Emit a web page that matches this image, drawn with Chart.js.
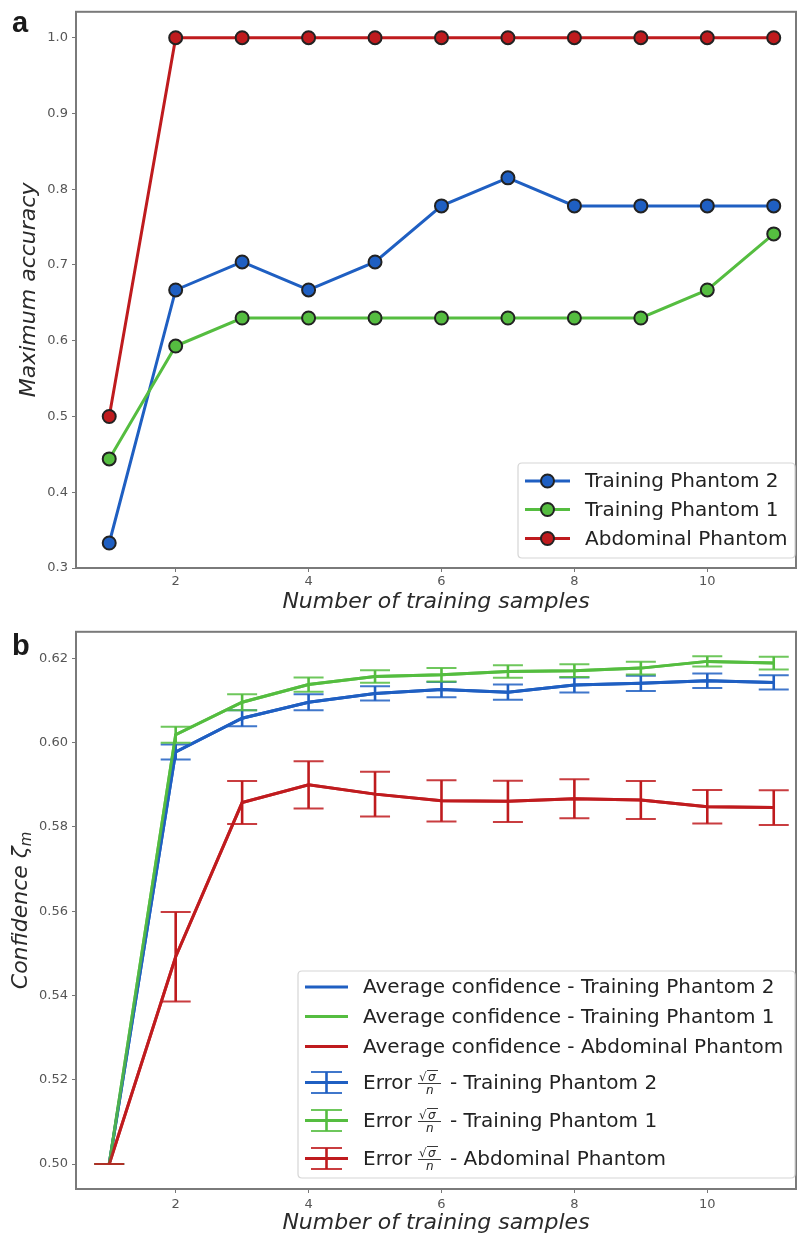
<!DOCTYPE html>
<html>
<head>
<meta charset="utf-8">
<title>accuracy and confidence</title>
<script src="https://cdn.jsdelivr.net/npm/chart.js"></script>
<style>
  html, body { margin: 0; padding: 0; background: #fff; overflow: hidden; }
  #wrapA { position: absolute; left: 0; top: 0; width: 797px; height: 620px; }
  #wrapB { position: absolute; left: 0; top: 620px; width: 797px; height: 616px; }
</style>
</head>
<body>
<div id="wrapA"><canvas id="chartA"></canvas></div>
<div id="wrapB"><canvas id="chartB"></canvas></div>
<script>
// number of training samples (x axis, both panels)
var samples = [1, 2, 3, 4, 5, 6, 7, 8, 9, 10, 11];
var xTicks = [2, 4, 6, 8, 10];

// panel a - maximum accuracy
var accTicks = [0.3, 0.4, 0.5, 0.6, 0.7, 0.8, 0.9, 1.0];
var accPhantom2  = [0.333, 0.667, 0.704, 0.667, 0.704, 0.778, 0.815, 0.778, 0.778, 0.778, 0.778];
var accPhantom1  = [0.444, 0.593, 0.630, 0.630, 0.630, 0.630, 0.630, 0.630, 0.630, 0.667, 0.741];
var accAbdominal = [0.500, 1.000, 1.000, 1.000, 1.000, 1.000, 1.000, 1.000, 1.000, 1.000, 1.000];

// panel b - average confidence and error (half height of bar)
var confTicks = [0.50, 0.52, 0.54, 0.56, 0.58, 0.60, 0.62];
var confPhantom2  = [0.500, 0.5978, 0.6058, 0.6096, 0.6117, 0.6126, 0.6120, 0.6137, 0.6141, 0.6147, 0.6143];
var errPhantom2   = [0.0, 0.0018, 0.0019, 0.0019, 0.0017, 0.0018, 0.0018, 0.0018, 0.0018, 0.0017, 0.0017];
var confPhantom1  = [0.500, 0.6019, 0.6096, 0.6138, 0.6157, 0.6161, 0.6169, 0.6171, 0.6177, 0.6193, 0.6189];
var errPhantom1   = [0.0, 0.0019, 0.0019, 0.0017, 0.0015, 0.0016, 0.0015, 0.0015, 0.0015, 0.0012, 0.0015];
var confAbdominal = [0.500, 0.5492, 0.5858, 0.5900, 0.5878, 0.5862, 0.5861, 0.5867, 0.5864, 0.5848, 0.5846];
var errAbdominal  = [0.0, 0.0106, 0.0051, 0.0056, 0.0053, 0.0049, 0.0049, 0.0046, 0.0045, 0.0040, 0.0041];

var BLUE = '#1f5fc2', GREEN = '#55bd40', RED = '#bf1b1e';
var FONT = "'DejaVu Sans', sans-serif";

function pts(vals) {
  return samples.map(function (s, i) { return { x: s, y: vals[i] }; });
}

// box round the plot area + panel letter
var frame = {
  id: 'frame',
  beforeDatasetsDraw: function (chart) {
    var a = chart.chartArea, ctx = chart.ctx;
    ctx.save();
    ctx.strokeStyle = '#7a7a7a';
    ctx.lineWidth = 2;
    ctx.strokeRect(a.left, a.top, a.right - a.left, a.bottom - a.top);
    ctx.restore();
  },
  afterDraw: function (chart) {
    var ctx = chart.ctx;
    ctx.save();
    ctx.fillStyle = '#1a1a1a';
    ctx.font = "bold 29px 'Liberation Sans', sans-serif";
    ctx.textBaseline = 'alphabetic';
    ctx.fillText(chart.canvas.id === 'chartA' ? 'a' : 'b', 12, chart.canvas.id === 'chartA' ? 32 : 35);
    ctx.restore();
  }
};

function roundBox(ctx, x, y, w, h, r) {
  ctx.beginPath();
  ctx.moveTo(x + r, y);
  ctx.lineTo(x + w - r, y); ctx.quadraticCurveTo(x + w, y, x + w, y + r);
  ctx.lineTo(x + w, y + h - r); ctx.quadraticCurveTo(x + w, y + h, x + w - r, y + h);
  ctx.lineTo(x + r, y + h); ctx.quadraticCurveTo(x, y + h, x, y + h - r);
  ctx.lineTo(x, y + r); ctx.quadraticCurveTo(x, y, x + r, y);
  ctx.closePath();
}

var legendA = {
  id: 'legendA',
  afterDraw: function (chart) {
    var ctx = chart.ctx;
    ctx.save();
    roundBox(ctx, 518, 463, 277, 95, 4);
    ctx.fillStyle = 'rgba(255,255,255,0.85)';
    ctx.fill();
    ctx.strokeStyle = '#d6d6d6';
    ctx.lineWidth = 1.2;
    ctx.stroke();
    var rows = [481, 509.5, 538.5];
    chart.data.datasets.forEach(function (d, i) {
      var y = rows[i];
      ctx.strokeStyle = d.borderColor;
      ctx.lineWidth = 3;
      ctx.beginPath(); ctx.moveTo(525, y); ctx.lineTo(570, y); ctx.stroke();
      ctx.beginPath(); ctx.arc(547.5, y, 6.5, 0, Math.PI * 2);
      ctx.fillStyle = d.borderColor; ctx.fill();
      ctx.lineWidth = 2; ctx.strokeStyle = '#222'; ctx.stroke();
      ctx.fillStyle = '#222';
      ctx.font = '20px ' + FONT;
      ctx.textBaseline = 'middle';
      ctx.fillText(d.label, 585, y + 1);
    });
    ctx.restore();
  }
};

new Chart(document.getElementById('chartA'), {
  type: 'line',
  data: {
    datasets: [
      { label: 'Training Phantom 2', data: pts(accPhantom2), borderColor: BLUE, backgroundColor: BLUE, order: 3 },
      { label: 'Training Phantom 1', data: pts(accPhantom1), borderColor: GREEN, backgroundColor: GREEN, order: 2 },
      { label: 'Abdominal Phantom', data: pts(accAbdominal), borderColor: RED, backgroundColor: RED, order: 1 }
    ]
  },
  options: {
    responsive: true,
    maintainAspectRatio: false,
    animation: false,
    events: [],
    layout: { autoPadding: false, padding: { top: 10, right: 1, left: 0, bottom: 0 } },
    elements: {
      line: { borderWidth: 3, tension: 0 },
      point: { radius: 6.5, borderWidth: 2, borderColor: '#222' }
    },
    datasets: { line: { pointBorderColor: '#222', pointBackgroundColor: function (c) { return c.dataset.borderColor; } } },
    plugins: { legend: { display: false }, tooltip: { enabled: false } },
    scales: {
      x: {
        type: 'linear', min: 0.5, max: 11.335,
        afterBuildTicks: function (s) { s.ticks = xTicks.map(function (v) { return { value: v }; }); },
        afterFit: function (s) { s.height = 52; },
        border: { display: false },
        grid: { drawOnChartArea: false, drawTicks: true, tickLength: 4, color: '#777' },
        ticks: { color: '#555', font: { family: FONT, size: 13 }, padding: 2 },
        title: { display: true, text: 'Number of training samples', color: '#2a2a2a',
                 font: { family: FONT, size: 22, style: 'italic' }, padding: { top: 0, bottom: 5 } }
      },
      y: {
        min: 0.3, max: 1.0342,
        afterBuildTicks: function (s) { s.ticks = accTicks.map(function (v) { return { value: v }; }); },
        afterFit: function (s) { s.width = 76; },
        border: { display: false },
        grid: { drawOnChartArea: false, drawTicks: true, tickLength: 4, color: '#777' },
        ticks: { color: '#555', font: { family: FONT, size: 13 }, padding: 4,
                 callback: function (v) { return v.toFixed(1); } },
        title: { display: true, text: 'Maximum accuracy', color: '#2a2a2a',
                 font: { family: FONT, size: 22, style: 'italic' }, padding: { top: 16, bottom: 0 } }
      }
    }
  },
  plugins: [frame, legendA]
});

// error bars of panel b, drawn on top of the average lines
var errorSets = [
  { color: BLUE, mean: confPhantom2, err: errPhantom2 },
  { color: GREEN, mean: confPhantom1, err: errPhantom1 },
  { color: RED, mean: confAbdominal, err: errAbdominal }
];

var errorBars = {
  id: 'errorBars',
  afterDatasetsDraw: function (chart) {
    var ctx = chart.ctx, xs = chart.scales.x, ys = chart.scales.y;
    ctx.save();
    errorSets.forEach(function (s) {
      ctx.strokeStyle = s.color;
      // line again, as the errorbar call draws it too
      ctx.lineWidth = 3;
      ctx.beginPath();
      samples.forEach(function (x, i) {
        var px = xs.getPixelForValue(x), py = ys.getPixelForValue(s.mean[i]);
        if (i === 0) ctx.moveTo(px, py); else ctx.lineTo(px, py);
      });
      ctx.stroke();
      samples.forEach(function (x, i) {
        var px = xs.getPixelForValue(x);
        var hi = ys.getPixelForValue(s.mean[i] + s.err[i]);
        var lo = ys.getPixelForValue(s.mean[i] - s.err[i]);
        ctx.globalAlpha = 1;
        ctx.lineWidth = 2.6;
        ctx.beginPath(); ctx.moveTo(px, hi); ctx.lineTo(px, lo); ctx.stroke();
        ctx.globalAlpha = 0.85;
        ctx.lineWidth = 2;
        ctx.beginPath();
        ctx.moveTo(px - 15, hi); ctx.lineTo(px + 15, hi);
        ctx.moveTo(px - 15, lo); ctx.lineTo(px + 15, lo);
        ctx.stroke();
      });
    });
    ctx.restore();
  }
};

var titleB = {
  id: 'titleB',
  afterDraw: function (chart) {
    var ctx = chart.ctx, a = chart.chartArea;
    ctx.save();
    ctx.translate(19, (a.top + a.bottom) / 2);
    ctx.rotate(-Math.PI / 2);
    ctx.fillStyle = '#2a2a2a';
    ctx.textBaseline = 'alphabetic';
    var main = 'Confidence \u03b6';
    ctx.font = 'italic 22px ' + FONT;
    var w1 = ctx.measureText(main).width;
    ctx.font = 'italic 15px ' + FONT;
    var w2 = ctx.measureText('m').width;
    var x0 = -(w1 + w2) / 2;
    ctx.font = 'italic 22px ' + FONT;
    ctx.fillText(main, x0, 8);
    ctx.font = 'italic 15px ' + FONT;
    ctx.fillText('m', x0 + w1, 12);
    ctx.restore();
  }
};

var legendB = {
  id: 'legendB',
  afterDraw: function (chart) {
    var ctx = chart.ctx;
    ctx.save();
    roundBox(ctx, 298, 351, 497, 207, 4);
    ctx.fillStyle = 'rgba(255,255,255,0.85)';
    ctx.fill();
    ctx.strokeStyle = '#d6d6d6';
    ctx.lineWidth = 1.2;
    ctx.stroke();
    var names = ['Training Phantom 2', 'Training Phantom 1', 'Abdominal Phantom'];
    var colors = [BLUE, GREEN, RED];
    var lineRows = [367, 396.5, 426.5];
    var errRows = [462.5, 500.5, 538.5];
    ctx.textBaseline = 'middle';
    names.forEach(function (n, i) {
      var y = lineRows[i];
      ctx.strokeStyle = colors[i];
      ctx.lineWidth = 3;
      ctx.beginPath(); ctx.moveTo(305, y); ctx.lineTo(348, y); ctx.stroke();
      ctx.fillStyle = '#222';
      ctx.font = '20px ' + FONT;
      ctx.fillText('Average confidence - ' + n, 363, y + 1);
    });
    names.forEach(function (n, i) {
      var y = errRows[i];
      ctx.strokeStyle = colors[i];
      ctx.globalAlpha = 1;
      ctx.lineWidth = 3;
      ctx.beginPath(); ctx.moveTo(305, y); ctx.lineTo(348, y); ctx.stroke();
      ctx.lineWidth = 2.6;
      ctx.beginPath(); ctx.moveTo(326.5, y - 10.5); ctx.lineTo(326.5, y + 10.5); ctx.stroke();
      ctx.globalAlpha = 0.85;
      ctx.lineWidth = 2;
      ctx.beginPath();
      ctx.moveTo(311, y - 10.5); ctx.lineTo(342, y - 10.5);
      ctx.moveTo(311, y + 10.5); ctx.lineTo(342, y + 10.5);
      ctx.stroke();
      ctx.globalAlpha = 1;
      ctx.fillStyle = '#222';
      ctx.font = '20px ' + FONT;
      ctx.textBaseline = 'middle';
      ctx.fillText('Error', 363, y + 1);
      // sqrt(sigma) / n
      ctx.font = 'italic 12px ' + FONT;
      ctx.textBaseline = 'alphabetic';
      ctx.fillText('\u221a', 419, y - 2);
      ctx.fillText('\u03c3', 428, y - 2);
      ctx.lineWidth = 0.9;
      ctx.strokeStyle = '#222';
      ctx.beginPath(); ctx.moveTo(427, y - 12); ctx.lineTo(438, y - 12); ctx.stroke();
      ctx.beginPath(); ctx.moveTo(418, y + 1); ctx.lineTo(441, y + 1); ctx.stroke();
      ctx.textBaseline = 'top';
      ctx.fillText('n', 426, y + 2);
      ctx.font = '20px ' + FONT;
      ctx.textBaseline = 'middle';
      ctx.fillText('- ' + n, 450, y + 1);
    });
    ctx.restore();
  }
};

new Chart(document.getElementById('chartB'), {
  type: 'line',
  data: {
    datasets: [
      { label: 'Average confidence - Training Phantom 2', data: pts(confPhantom2), borderColor: BLUE, order: 3 },
      { label: 'Average confidence - Training Phantom 1', data: pts(confPhantom1), borderColor: GREEN, order: 2 },
      { label: 'Average confidence - Abdominal Phantom', data: pts(confAbdominal), borderColor: RED, order: 1 }
    ]
  },
  options: {
    responsive: true,
    maintainAspectRatio: false,
    animation: false,
    events: [],
    layout: { autoPadding: false, padding: { top: 10, right: 1, left: 0, bottom: 0 } },
    elements: {
      line: { borderWidth: 3, tension: 0 },
      point: { radius: 0 }
    },
    plugins: { legend: { display: false }, tooltip: { enabled: false } },
    scales: {
      x: {
        type: 'linear', min: 0.5, max: 11.335,
        afterBuildTicks: function (s) { s.ticks = xTicks.map(function (v) { return { value: v }; }); },
        afterFit: function (s) { s.height = 47; },
        border: { display: false },
        grid: { drawOnChartArea: false, drawTicks: true, tickLength: 4, color: '#777' },
        ticks: { color: '#555', font: { family: FONT, size: 13 }, padding: 4 },
        title: { display: true, text: 'Number of training samples', color: '#2a2a2a',
                 font: { family: FONT, size: 22, style: 'italic' }, padding: { top: 0, bottom: 0 } }
      },
      y: {
        min: 0.49409, max: 0.62632,
        afterBuildTicks: function (s) { s.ticks = confTicks.map(function (v) { return { value: v }; }); },
        afterFit: function (s) { s.width = 76; },
        border: { display: false },
        grid: { drawOnChartArea: false, drawTicks: true, tickLength: 4, color: '#777' },
        ticks: { color: '#555', font: { family: FONT, size: 13 }, padding: 4,
                 callback: function (v) { return v.toFixed(2); } },
        title: { display: false }
      }
    }
  },
  plugins: [frame, errorBars, titleB, legendB]
});
</script>
</body>
</html>
